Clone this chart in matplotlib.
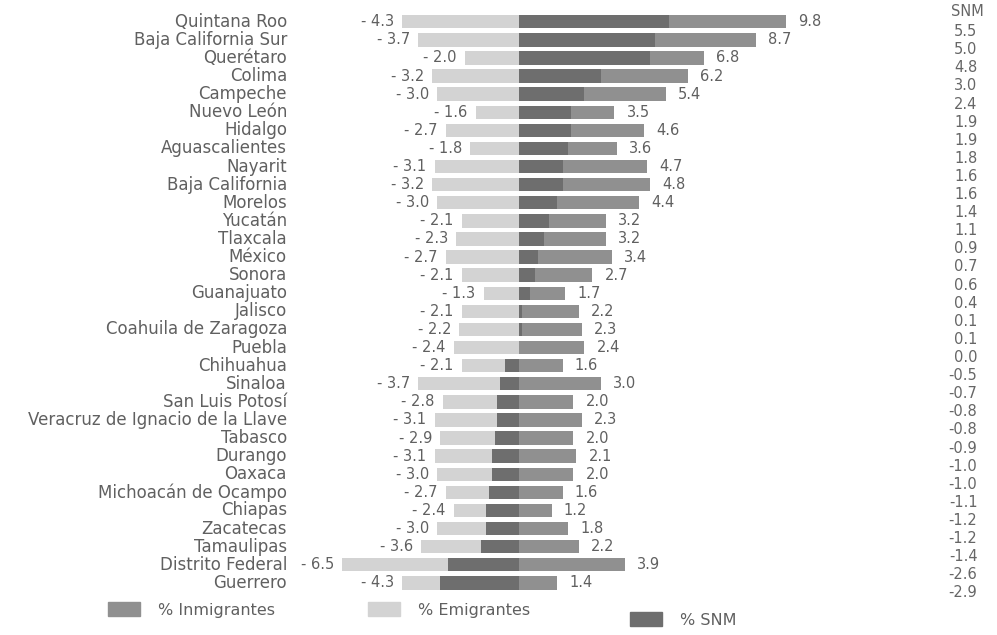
import matplotlib
matplotlib.use("Agg")
import matplotlib.pyplot as plt
from matplotlib.patches import Patch

# -------------------------------
# DATA
# -------------------------------
estados = [
    "Quintana Roo", "Baja California Sur", "Querétaro", "Colima", "Campeche",
    "Nuevo León", "Hidalgo", "Aguascalientes", "Nayarit", "Baja California",
    "Morelos", "Yucatán", "Tlaxcala", "México", "Sonora", "Guanajuato",
    "Jalisco", "Coahuila de Zaragoza", "Puebla", "Chihuahua", "Sinaloa",
    "San Luis Potosí", "Veracruz de Ignacio de la Llave", "Tabasco", "Durango",
    "Oaxaca", "Michoacán de Ocampo", "Chiapas", "Zacatecas", "Tamaulipas",
    "Distrito Federal", "Guerrero",
]
emigrantes = [4.3, 3.7, 2.0, 3.2, 3.0, 1.6, 2.7, 1.8, 3.1, 3.2, 3.0, 2.1, 2.3,
              2.7, 2.1, 1.3, 2.1, 2.2, 2.4, 2.1, 3.7, 2.8, 3.1, 2.9, 3.1, 3.0,
              2.7, 2.4, 3.0, 3.6, 6.5, 4.3]
inmigrantes = [9.8, 8.7, 6.8, 6.2, 5.4, 3.5, 4.6, 3.6, 4.7, 4.8, 4.4, 3.2, 3.2,
               3.4, 2.7, 1.7, 2.2, 2.3, 2.4, 1.6, 3.0, 2.0, 2.3, 2.0, 2.1, 2.0,
               1.6, 1.2, 1.8, 2.2, 3.9, 1.4]
snm = [5.5, 5.0, 4.8, 3.0, 2.4, 1.9, 1.9, 1.8, 1.6, 1.6, 1.4, 1.1, 0.9, 0.7,
       0.6, 0.4, 0.1, 0.1, 0.0, -0.5, -0.7, -0.8, -0.8, -0.9, -1.0, -1.0, -1.1,
       -1.2, -1.2, -1.4, -2.6, -2.9]

C_EMI = "#d3d3d3"
C_INM = "#909090"
C_SNM = "#6e6e6e"
C_TXT = "#606060"

plt.rcParams["font.family"] = ["DejaVu Sans"]

# -------------------------------
# FIGURE
# -------------------------------
fig = plt.figure(figsize=(9.97, 6.35), dpi=100)
ax = fig.add_axes([0, 0, 1, 1])
ax.set_xlim(-19.08, 17.57)
ax.set_ylim(33.88, -1.2)
ax.axis("off")

y = list(range(len(estados)))
neg_emi = [-v for v in emigrantes]

ax.barh(y, neg_emi, height=0.74, color=C_EMI)
ax.barh(y, inmigrantes, height=0.74, color=C_INM)
ax.barh(y, snm, height=0.74, color=C_SNM)

for i, name in enumerate(estados):
    ax.text(-8.53, i, name, ha="right", va="center", fontsize=12, color=C_TXT)
    ax.text(neg_emi[i] - 0.3, i, f"- {emigrantes[i]:.1f}", ha="right",
            va="center", fontsize=10.5, color=C_TXT)
    ax.text(inmigrantes[i] + 0.45, i, f"{inmigrantes[i]:.1f}", ha="left",
            va="center", fontsize=10.5, color=C_TXT)
    # SNM column sits half a row lower than the bars in the original
    ax.text(16.85, i + 0.55, f"{snm[i]:.1f}", ha="right", va="center",
            fontsize=10.5, color="#666666")

ax.text(16.47, -0.54, "SNM", ha="center", va="center", fontsize=10.5,
        color="#666666")

# -------------------------------
# LEGEND
# -------------------------------
leg_items = [
    ("% Inmigrantes", C_INM, 108 / 997, 1 - 610 / 635),
    ("% Emigrantes", C_EMI, 368 / 997, 1 - 610 / 635),
    ("% SNM", C_SNM, 630 / 997, 1 - 620 / 635),
]
for label, col, lx, ly in leg_items:
    lg = fig.legend(handles=[Patch(color=col, label=label)], loc="center left",
                    bbox_to_anchor=(lx, ly), frameon=False, fontsize=11.5,
                    handlelength=2.0, handleheight=1.0, handletextpad=1.1,
                    borderpad=0, borderaxespad=0)
    for t in lg.get_texts():
        t.set_color(C_TXT)

fig.savefig("out.png", dpi=100, facecolor="white")
